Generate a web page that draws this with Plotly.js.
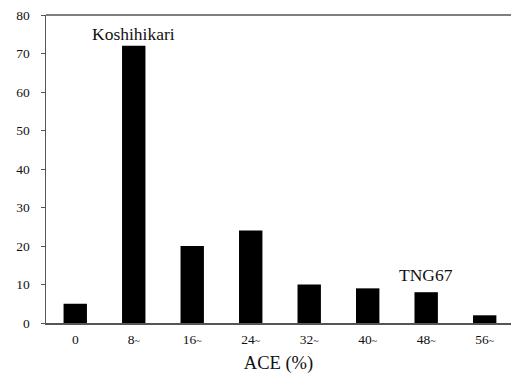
<!DOCTYPE html>
<html>
<head>
<meta charset="utf-8">
<script src="https://cdn.plot.ly/plotly-3.0.1.min.js"></script>
<style>html,body{margin:0;padding:0;background:#fff;overflow:hidden;}#chart{width:511px;height:374px;}</style>
</head>
<body>
<div id="chart"></div>
<script>
var categories = ['0', '8~', '16~', '24~', '32~', '40~', '48~', '56~'];
var counts = [5, 72, 20, 24, 10, 9, 8, 2];
var yTicks = [0, 10, 20, 30, 40, 50, 60, 70, 80];
var labelNames = ['Koshihikari', 'TNG67'];
var labelCategory = ['8~', '48~'];
var labelShift = [0, 5];

var SERIF = "Liberation Serif";

function tickText(c) {
  if (c.indexOf('~') < 0) return c;
  return c.replace('~', '<span style="font-size:10px">~</span>');
}

var trace = {
  type: 'bar',
  x: categories,
  y: counts,
  width: 0.4,
  marker: {color: '#000000', line: {width: 0}},
  hoverinfo: 'skip'
};

var annotations = labelNames.map(function (n, i) {
  var idx = categories.indexOf(labelCategory[i]);
  return {
    x: labelCategory[i], y: counts[idx], xref: 'x', yref: 'y',
    text: n, showarrow: false, yanchor: 'bottom', yshift: labelShift[i],
    font: {family: SERIF, size: 17.5, color: '#111'}
  };
});

var layout = {
  width: 511, height: 374,
  margin: {l: 45.5, r: 0, t: 15, b: 51.3},
  paper_bgcolor: '#fff', plot_bgcolor: '#fff',
  showlegend: false,
  font: {family: SERIF, color: '#111'},
  xaxis: {
    type: 'category',
    range: [-0.5, 7.45],
    tickmode: 'array',
    tickvals: categories,
    ticktext: categories.map(tickText),
    showline: true, linecolor: '#555', linewidth: 1.5,
    mirror: false,
    ticks: '', showgrid: false, zeroline: false,
    tickfont: {family: SERIF, size: 13.5, color: '#111'},
    ticklabelstandoff: 3,
    title: {text: 'ACE (%)', font: {family: SERIF, size: 18.5, color: '#111'}, standoff: 13}
  },
  yaxis: {
    range: [0, 80],
    tickmode: 'array',
    tickvals: yTicks,
    showline: true, linecolor: '#555', linewidth: 1.5,
    ticks: 'outside', ticklen: 4, tickcolor: '#555', tickwidth: 1,
    showgrid: false, zeroline: false,
    tickfont: {family: SERIF, size: 13.5, color: '#111'},
    ticklabelstandoff: 8
  },
  shapes: [{
    type: 'line', xref: 'paper', yref: 'paper', x0: 0, x1: 1.02, y0: 1, y1: 1,
    line: {color: '#555', width: 1.5}
  }],
  annotations: annotations
};

Plotly.newPlot('chart', [trace], layout, {staticPlot: true, displayModeBar: false});
</script>
</body>
</html>
